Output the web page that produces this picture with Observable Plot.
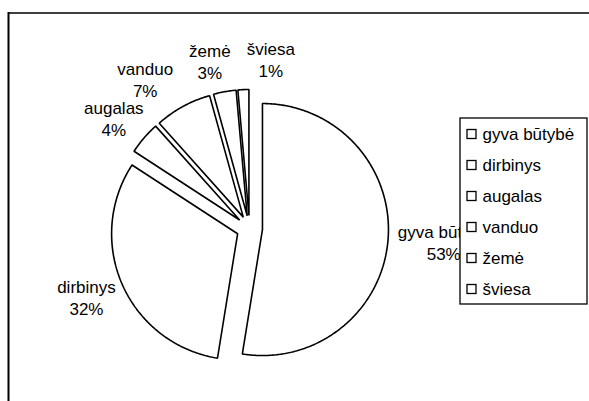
<!DOCTYPE html>
<html><head><meta charset="utf-8">
<script src="https://cdn.jsdelivr.net/npm/d3@7"></script>
<script src="https://cdn.jsdelivr.net/npm/@observablehq/plot@0.6"></script>
<style>body{margin:0;background:#fff}#chart svg{display:block}</style>
</head><body><div id="chart"></div>
<script>
// ---- data ----
const categories = ["gyva būtybė", "dirbinys", "augalas", "vanduo", "žemė", "šviesa"];
const values = [52.5, 31.6, 4.2, 7.3, 2.9, 1.4];

// ---- layout ----
const W = 589, H = 401;
const cx = 249, cy = 228, R = 126, explode = 13;
const FONT = "'Liberation Sans', Arial, sans-serif";
const FS = 17, LH = 22, labelGap = 10, blockH = 42, minGap = 16;

const total = d3.sum(values);
const arcs = d3.pie().sort(null).value(d => d)(values);

const ctx = document.createElement("canvas").getContext("2d");
ctx.font = `${FS}px ${FONT}`;
const tw = s => ctx.measureText(s).width;

// slice polygons
const slicePts = [];
arcs.forEach((p, i) => {
  const mid = (p.startAngle + p.endAngle) / 2;
  const ox = cx + explode * Math.sin(mid), oy = cy - explode * Math.cos(mid);
  slicePts.push({k: categories[i], x: ox, y: oy});
  const n = Math.max(2, Math.ceil((p.endAngle - p.startAngle) / 0.01));
  for (let j = 0; j <= n; j++) {
    const a = p.startAngle + (p.endAngle - p.startAngle) * j / n;
    slicePts.push({k: categories[i], x: ox + R * Math.sin(a), y: oy - R * Math.cos(a)});
  }
});

// labels (outside end, box anchored to the arc)
const labels = arcs.map((p, i) => {
  const mid = (p.startAngle + p.endAngle) / 2;
  const sx = Math.sin(mid), sy = -Math.cos(mid);
  const ox = cx + explode * sx, oy = cy + explode * sy;
  const pct = Math.round(values[i] / total * 100) + "%";
  const w = Math.max(tw(categories[i]), tw(pct));
  const px = ox + (R + labelGap) * sx, py = oy + (R + labelGap) * sy;
  return {text: categories[i] + "\n" + pct, x: px + sx * w / 2, y: py + sy * blockH / 2, w};
});
// simple collision avoidance: push overlapping labels apart horizontally
for (let it = 0; it < 200; it++) {
  let moved = false;
  for (let i = 0; i < labels.length; i++) for (let j = i + 1; j < labels.length; j++) {
    const a = labels[i], b = labels[j];
    const yo = blockH - Math.abs(a.y - b.y);
    if (yo <= 4) continue;
    const need = (a.w + b.w) / 2 + minGap;
    const d = Math.abs(a.x - b.x);
    if (d < need - 0.01) {
      const push = (need - d) / 2;
      const [l, r] = a.x <= b.x ? [a, b] : [b, a];
      l.x -= push; r.x += push; moved = true;
    }
  }
  if (!moved) break;
}

// legend
const legBox = {x1: 460, x2: 587, y1: 118, y2: 304};
const rowH = 31;
const legendRows = categories.map((c, i) => ({c, y: legBox.y1 + 16 + i * rowH}));

const chart = Plot.plot({
  width: W, height: H,
  margin: 0,
  x: {type: "linear", domain: [0, W], range: [0, W], axis: null},
  y: {type: "linear", domain: [0, H], range: [0, H], axis: null},
  style: {fontFamily: FONT, fontSize: FS + "px", background: "#fff", color: "#000"},
  marks: [
    Plot.ruleY([{y: 12.5}], {y: "y", x1: () => 8, x2: () => W, stroke: "#000", strokeWidth: 1.6}),
    Plot.ruleX([{x: 8}], {x: "x", y1: () => 12, y2: () => H, stroke: "#000", strokeWidth: 2}),
    Plot.line(slicePts, {x: "x", y: "y", z: "k", fill: "white", stroke: "black", strokeWidth: 1.6, curve: "linear-closed", strokeLinejoin: "miter"}),
    Plot.text(labels, {x: "x", y: "y", text: "text", textAnchor: "middle", lineAnchor: "middle", lineHeight: LH / FS, fontSize: FS, fill: "black"}),
    Plot.rect([legBox], {x1: "x1", x2: "x2", y1: "y1", y2: "y2", fill: "white", stroke: "black", strokeWidth: 1.3}),
    Plot.rect(legendRows, {x1: () => 467, x2: () => 476, y1: d => d.y - 4.5, y2: d => d.y + 4.5, fill: "white", stroke: "black", strokeWidth: 1.3}),
    Plot.text(legendRows, {x: () => 482, y: "y", text: "c", textAnchor: "start", lineAnchor: "middle", fontSize: FS, fill: "black"})
  ]
});
document.getElementById("chart").append(chart);
</script>
</body></html>
